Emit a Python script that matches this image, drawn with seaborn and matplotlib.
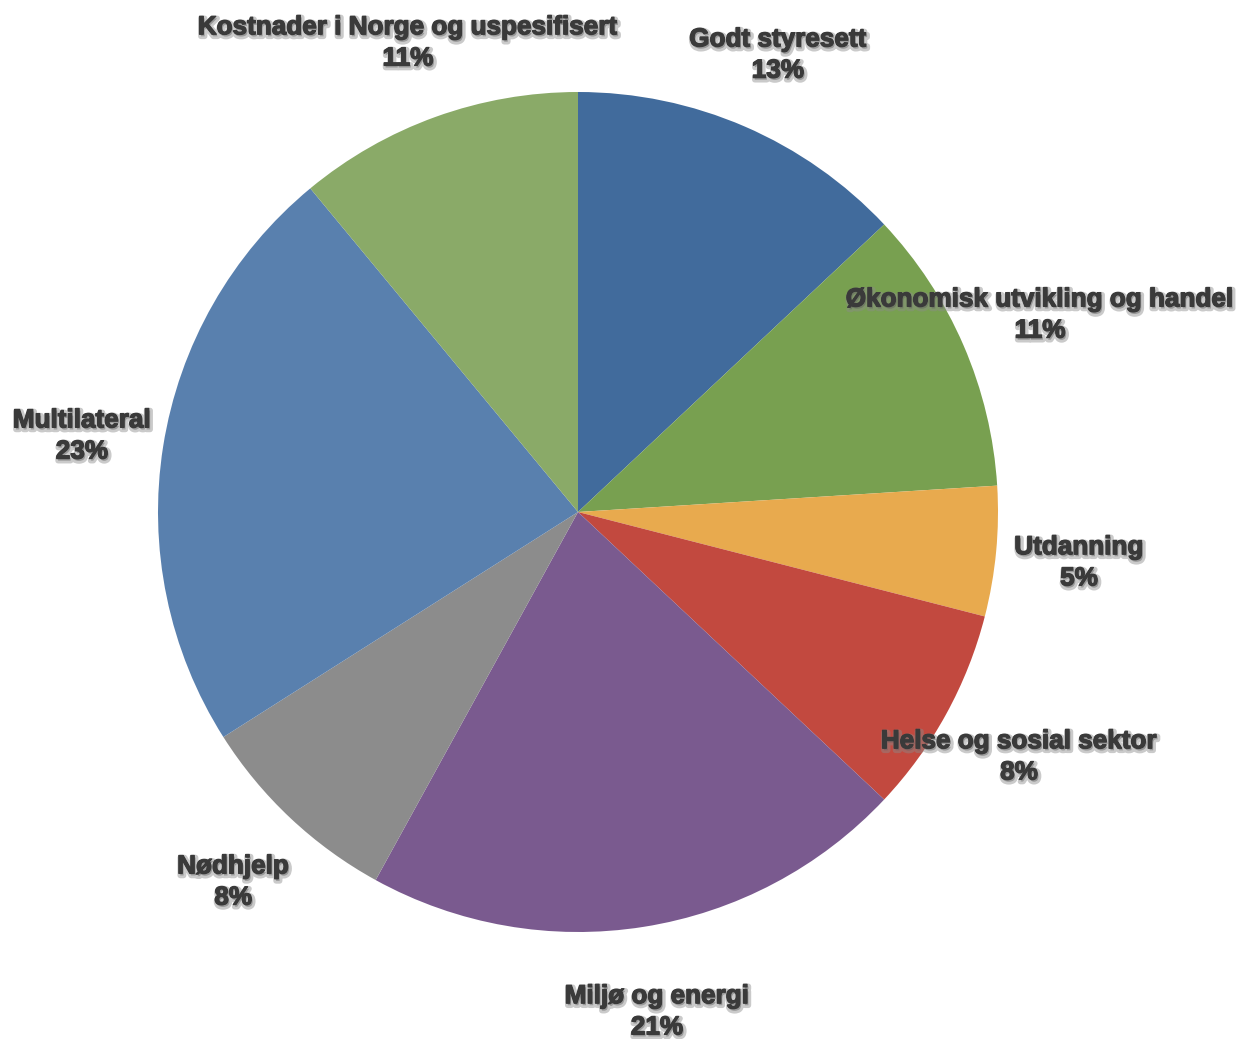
import matplotlib
matplotlib.use("Agg")
import matplotlib.pyplot as plt
import matplotlib.patheffects as pe
import seaborn as sns

# Data
categories = ["Godt styresett", "Økonomisk utvikling og handel", "Utdanning",
              "Helse og sosial sektor", "Miljø og energi", "Nødhjelp",
              "Multilateral", "Kostnader i Norge og uspesifisert"]
shares = [13, 11, 5, 8, 21, 8, 23, 11]

# Style
colors = ["#416B9C", "#78A050", "#E8AA4E", "#C2493F", "#7A5A8F", "#8C8C8C",
          "#5980AE", "#8AAA68"]
# label centers, in pie-radius units
label_pos = [(0.476, 1.088), (1.10, 0.469), (1.193, -0.121), (1.05, -0.583),
             (0.188, -1.19), (-0.821, -0.881), (-1.181, 0.181), (-0.405, 1.117)]

sns.set_theme(style="white")
plt.rcParams['font.family'] = ['Liberation Sans', 'DejaVu Sans']
palette = sns.color_palette(colors)

fig = plt.figure(figsize=(12.37, 10.39), dpi=100)
W, H = 1237, 1039
cx, cy, R = 578, 512, 420
ax = fig.add_axes([(cx - R) / W, (H - cy - R) / H, 2 * R / W, 2 * R / H])
ax.pie(shares, colors=palette, startangle=90, counterclock=False, radius=1,
       wedgeprops=dict(linewidth=0))
ax.set_xlim(-1, 1)
ax.set_ylim(-1, 1)
ax.set_aspect("equal")
ax.axis("off")

for cat, val, (x, y) in zip(categories, shares, label_pos):
    ax.text(x, y, f"{cat}\n{val}%", ha="center", va="center", fontsize=18.8,
            fontweight="bold", color="#3a3a3a", linespacing=1.38, clip_on=False,
            path_effects=[pe.withStroke(offset=(1, -1.5), linewidth=4,
                                        foreground="#8a8a8a", alpha=0.45),
                          pe.withStroke(linewidth=0.9, foreground="#3a3a3a")])

fig.savefig("out.png", dpi=100)
